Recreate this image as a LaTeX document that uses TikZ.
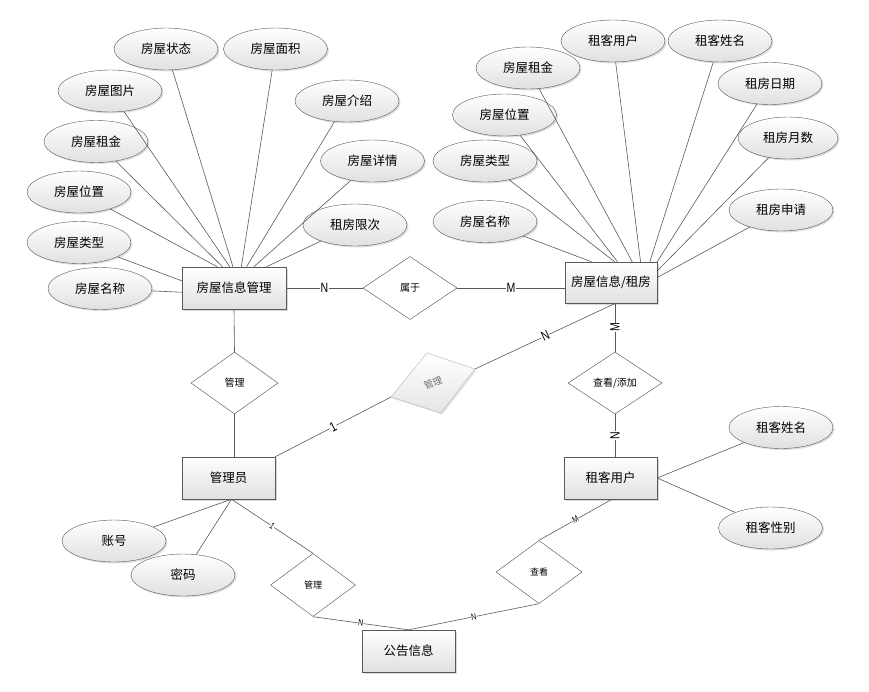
\documentclass[tikz,border=0pt]{standalone}
\usepackage{fontspec}
\setmainfont{Noto Sans CJK SC}
\newfontfamily\cardfont[FakeStretch=0.78]{Liberation Sans}
\usepackage{tikz}
\usetikzlibrary{shapes.geometric,shadows,calc}
\tikzstyle{entity}=[draw=black!65,top color=white,bottom color=black!12,minimum width=93pt,minimum height=42pt,inner sep=0pt,font=\fontsize{12.5}{14}\selectfont,drop shadow={opacity=0.3,shadow xshift=1.5pt,shadow yshift=-1.5pt}]
\tikzstyle{attrib}=[ellipse,draw=black!65,top color=white,bottom color=black!12,minimum width=104pt,minimum height=42pt,inner sep=0pt,font=\fontsize{12.5}{14}\selectfont,drop shadow={opacity=0.25,shadow xshift=1.5pt,shadow yshift=-1.5pt}]
\tikzstyle{relation}=[diamond,draw=black!70,fill=white,inner sep=0pt,font=\fontsize{10}{12}\selectfont]
\tikzstyle{link}=[draw=black!65,line width=0.6pt]
\tikzstyle{card}=[fill=white,inner sep=0.6pt,font=\cardfont\fontsize{13.5}{14}\selectfont]
\tikzstyle{smallcard}=[fill=white,inner sep=0.4pt,font=\cardfont\fontsize{9}{10}\selectfont]

\begin{document}
\begin{tikzpicture}[x=1pt,y=-1pt]
\useasboundingbox (0,0) rectangle (869,691);

\node [entity,minimum width=104pt] (mgr) at (234,288) {房屋信息管理};
\node [entity,minimum width=92pt,minimum height=41pt] (rent) at (611,282.5) {房屋信息/租房};
\node [entity] (adm) at (228.5,478) {管理员};
\node [entity] (ten) at (610.5,478) {租客用户};
\node [entity] (ann) at (408.5,651) {公告信息};

\node [attrib] (hstate) at (166,49) {房屋状态};
\node [attrib] (harea) at (275.5,49) {房屋面积};
\node [attrib] (hpic) at (110,91) {房屋图片};
\node [attrib] (hintro) at (347,101) {房屋介绍};
\node [attrib] (hrent) at (96,141.5) {房屋租金};
\node [attrib] (hdetail) at (372.5,161) {房屋详情};
\node [attrib] (hpos) at (79,192) {房屋位置};
\node [attrib] (hlimit) at (355,225) {租房限次};
\node [attrib] (htype) at (79,242.5) {房屋类型};
\node [attrib] (hname) at (100,288.5) {房屋名称};

\node [attrib] (ruser) at (613,41) {租客用户};
\node [attrib] (runame) at (720,41) {租客姓名};
\node [attrib] (rrent) at (528,68) {房屋租金};
\node [attrib] (rdate) at (770,83.5) {租房日期};
\node [attrib] (rpos) at (504.5,115) {房屋位置};
\node [attrib,minimum width=100pt] (rmonths) at (788,138) {租房月数};
\node [attrib] (rtype) at (485,161) {房屋类型};
\node [attrib] (rapply) at (781,210) {租房申请};
\node [attrib] (rname) at (485,221.5) {房屋名称};

\node [attrib] (acc) at (114,541) {账号};
\node [attrib] (pwd) at (183,575) {密码};
\node [attrib] (tname) at (781,427.5) {租客姓名};
\node [attrib] (tsex) at (770.5,528) {租客性别};

\node [relation,minimum width=94pt,minimum height=63pt] (belong) at (410,288) {属于};
\node [relation,minimum width=87pt,minimum height=62pt] (dmgr) at (234.5,383) {管理};
\node [relation,minimum width=94pt,minimum height=62pt] (dview) at (615,383) {查看/添加};
\node [relation,minimum width=85pt,minimum height=63pt,font=\fontsize{9}{10}\selectfont] (dnote) at (313,585) {管理};
\node [relation,minimum width=86pt,minimum height=63pt,font=\fontsize{9}{10}\selectfont] (dlook) at (539,572) {查看};

\coordinate (gt) at (427,353);
\coordinate (gr) at (475,369);
\coordinate (gb) at (441,413);
\coordinate (gl) at (391,397);
\draw [draw=black!30,top color=white,bottom color=black!10,drop shadow={opacity=0.2,shadow xshift=1.5pt,shadow yshift=-1.5pt}] (gt) -- (gr) -- (gb) -- (gl) -- cycle;
\node [rotate=22,text=black!55,font=\fontsize{9.5}{11}\selectfont] (gtext) at (433,383) {管理};

\foreach \a/\f in {hpos/0.34,hrent/0.39,hpic/0.46,hstate/0.49,harea/0.57,hintro/0.62,hdetail/0.69,hlimit/0.81}
  \draw [link] (\a) -- ($(mgr.north west)!\f!(mgr.north east)$);
\draw [link] (htype) -- ($(mgr.north west)!0.33!(mgr.south west)$);
\draw [link] (hname) -- ($(mgr.north west)!0.6!(mgr.south west)$);

\foreach \a/\f in {rname/0.29,rtype/0.54,rpos/0.57,rrent/0.73,ruser/0.82,runame/0.92,rdate/1}
  \draw [link] (\a) -- ($(rent.north west)!\f!(rent.north east)$);
\draw [link] (rmonths) -- ($(rent.north east)!0.22!(rent.south east)$);
\draw [link] (rapply) -- ($(rent.north east)!0.38!(rent.south east)$);

\draw [link] (mgr.east) -- node [card] {N} (belong.west);
\draw [link] (belong.east) -- node [card] {M} (belong.east -| rent.west);
\draw [link] (mgr.south) -- (dmgr.north);
\draw [link] (dmgr.south) -- (dmgr.south |- adm.north);
\draw [link] (dview.north |- rent.south) -- node [card,rotate=90] {M} (dview.north);
\draw [link] (dview.south) -- node [card,rotate=90] {N} (dview.south |- ten.north);
\draw [link] (adm.north east) -- node [card,sloped] {1} (gl);
\draw [link] (gr) -- node [card,sloped] {N} ($(rent.south west)!0.55!(rent.south east)$);

\coordinate (abot) at ([xshift=3pt]adm.south);
\draw [link] (acc) -- (abot);
\draw [link] (pwd) -- (abot);
\draw [link] (abot) -- node [smallcard,sloped] {1} (dnote.north);
\draw [link] (dnote.south) -- node [smallcard,sloped] {N} (ann.north);
\draw [link] (dlook.south) -- node [smallcard,sloped] {N} (ann.north);
\draw [link] ([xshift=1.5pt]ten.south) -- node [smallcard,sloped] {M} (dlook.north);
\draw [link] (ten.east) -- (tname);
\draw [link] (ten.east) -- (tsex);
\end{tikzpicture}
\end{document}
